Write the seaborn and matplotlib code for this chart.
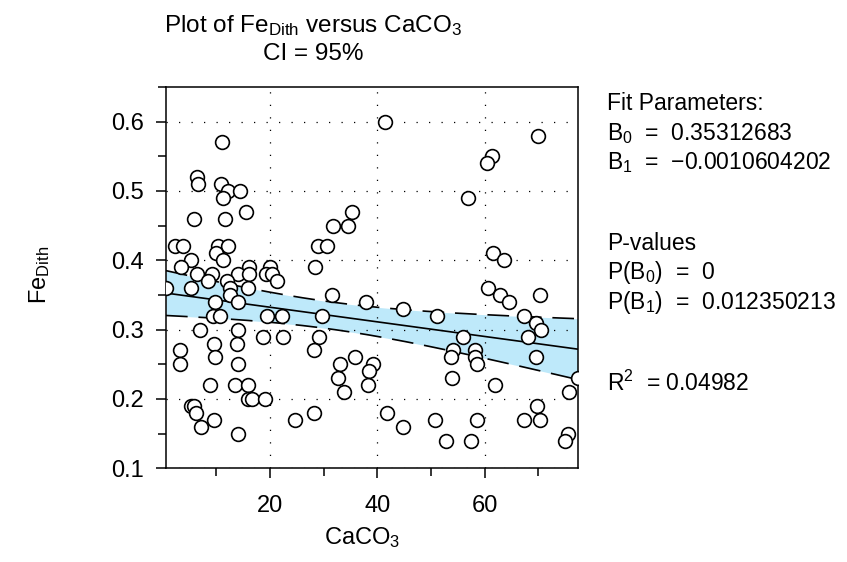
import numpy as np
import matplotlib
matplotlib.use("Agg")
import matplotlib.pyplot as plt
import seaborn as sns

# ---- data ----
caco3 = [11.1, 6.3, 6.6, 10.8, 12.1, 14.3, 11.3, 5.9, 11.6, 15.6,
         2.3, 3.7, 10.2, 12.2, 10.0, 11.3, 5.3, 3.4, 16.0, 19.9,
         6.4, 9.1, 14.1, 16.1, 19.2, 20.3, 8.5, 11.9, 21.2, 0.6,
         5.2, 12.5, 15.9, 12.5, 9.8, 14.1, 9.4, 10.6, 19.4, 22.3,
         7.0, 14.1, 18.7, 22.4, 9.6, 13.8, 3.2, 3.2, 9.7, 14.0,
         8.8, 13.5, 15.9, 15.8, 16.7, 19.1, 5.3, 5.9, 6.1, 9.6,
         7.1, 14.0, 24.7,
         41.4, 35.2, 31.7, 34.6, 29.0, 30.7, 28.4, 31.5, 37.9, 44.8,
         51.2, 29.7, 29.1, 28.1, 35.8, 33.0, 39.2, 38.5, 32.7, 38.3,
         33.8, 28.1, 41.7, 44.8, 50.8, 52.8,
         70.0, 61.3, 60.5, 56.8, 61.5, 63.6, 60.7, 62.8, 64.6, 70.3,
         67.4, 69.6, 70.5, 68.1, 55.9, 54.1, 53.7, 58.2, 58.2, 58.6,
         69.5, 54.0, 61.9, 77.3, 75.8, 69.7, 58.5, 67.4, 70.3, 57.4,
         75.6, 75.0]
fe_dith = [0.57, 0.52, 0.51, 0.51, 0.50, 0.50, 0.49, 0.46, 0.46, 0.47,
           0.42, 0.42, 0.42, 0.42, 0.41, 0.40, 0.40, 0.39, 0.39, 0.39,
           0.38, 0.38, 0.38, 0.38, 0.38, 0.38, 0.37, 0.37, 0.37, 0.36,
           0.36, 0.36, 0.36, 0.35, 0.34, 0.34, 0.32, 0.32, 0.32, 0.32,
           0.30, 0.30, 0.29, 0.29, 0.28, 0.28, 0.27, 0.25, 0.26, 0.25,
           0.22, 0.22, 0.22, 0.20, 0.20, 0.20, 0.19, 0.19, 0.18, 0.17,
           0.16, 0.15, 0.17,
           0.60, 0.47, 0.45, 0.45, 0.42, 0.42, 0.39, 0.35, 0.34, 0.33,
           0.32, 0.32, 0.29, 0.27, 0.26, 0.25, 0.25, 0.24, 0.23, 0.22,
           0.21, 0.18, 0.18, 0.16, 0.17, 0.14,
           0.58, 0.55, 0.54, 0.49, 0.41, 0.40, 0.36, 0.35, 0.34, 0.35,
           0.32, 0.31, 0.30, 0.29, 0.29, 0.27, 0.26, 0.27, 0.26, 0.25,
           0.26, 0.23, 0.22, 0.23, 0.21, 0.19, 0.17, 0.17, 0.17, 0.14,
           0.15, 0.14]

x_major = [20, 40, 60]
x_minor = [10, 30, 50, 70]
y_major = [0.1, 0.2, 0.3, 0.4, 0.5, 0.6]
y_minor = [0.15, 0.25, 0.35, 0.45, 0.55, 0.65]

fit_lines = ["Fit Parameters:",
             "B$_{0}$  =  0.35312683",
             "B$_{1}$  =  \u22120.0010604202",
             "",
             "P-values",
             "P(B$_{0}$)  =  0",
             "P(B$_{1}$)  =  0.012350213",
             "",
             "R$^{2}$  = 0.04982"]

# ---- style ----
sns.set_style("ticks")
plt.rcParams["font.family"] = ["Liberation Sans", "DejaVu Sans"]
plt.rcParams["mathtext.fontset"] = "custom"
plt.rcParams["mathtext.rm"] = "Liberation Sans"
plt.rcParams["mathtext.it"] = "Liberation Sans:italic"
plt.rcParams["mathtext.bf"] = "Liberation Sans:bold"
plt.rcParams["mathtext.default"] = "regular"
plt.rcParams["text.color"] = "black"
plt.rcParams["axes.labelcolor"] = "black"
plt.rcParams["xtick.color"] = "black"
plt.rcParams["ytick.color"] = "black"

W, H = 847, 562
fig = plt.figure(figsize=(W / 100, H / 100), dpi=100)
L, R, T, B = 166, 577.5, 87, 468.3
ax = fig.add_axes([L / W, 1 - B / H, (R - L) / W, (B - T) / H])

x = np.asarray(caco3)
y = np.asarray(fe_dith)

# analytic 95% confidence band of the fitted mean
n = len(x)
b1, b0 = np.polyfit(x, y, 1)
resid = y - (b0 + b1 * x)
s = np.sqrt(np.sum(resid ** 2) / (n - 2))
xg = np.linspace(x.min(), x.max(), 200)
se = s * np.sqrt(1 / n + (xg - x.mean()) ** 2 / np.sum((x - x.mean()) ** 2))
t = 1.98
yfit = b0 + b1 * xg
lo, hi = yfit - t * se, yfit + t * se

ax.fill_between(xg, lo, hi, color="#BEE9FA", lw=0, zorder=1)
ax.plot(xg, lo, color="black", lw=1.2, dashes=(13, 6.5), zorder=2)
ax.plot(xg, hi, color="black", lw=1.2, dashes=(13, 6.5), zorder=2)

sns.regplot(x=x, y=y, scatter=False, ci=None, truncate=True, ax=ax,
            line_kws=dict(color="black", lw=1.2, zorder=3))
sns.scatterplot(x=x, y=y, s=98, color="white", edgecolor="black",
                linewidth=1.2, zorder=5, ax=ax, legend=False)

ax.set_xlim(x.min(), x.max())
ax.set_ylim(0.1, 0.65)
ax.set_xticks(x_major)
ax.set_xticks(x_minor, minor=True)
ax.set_yticks(y_major)
ax.set_yticks(y_minor, minor=True)
ax.set_yticklabels([f"{v:.1f}" for v in y_major])
ax.tick_params(which="major", length=7, width=1.1, labelsize=17, direction="out")
ax.tick_params(axis="y", which="major", pad=9)
ax.tick_params(axis="x", which="major", pad=12)
ax.tick_params(which="minor", length=6, width=1.1, direction="out")
ax.set_axisbelow("line")
ax.grid(which="major", color="black", lw=0.9, linestyle=(0, (1, 9)))
for sp in ax.spines.values():
    sp.set_visible(True)
    sp.set_color("black")
    sp.set_linewidth(1.1)

ax.set_xlabel("CaCO$_{3}$", fontsize=17)
ax.xaxis.set_label_coords((362 - L) / (R - L), (B - 538) / (B - T), transform=ax.transAxes)
ax.xaxis.label.set_va("center")
ax.set_ylabel("Fe$_{\\mathrm{Dith}}$", fontsize=17)
ax.yaxis.set_label_coords((40 - L) / (R - L), (B - 275) / (B - T), transform=ax.transAxes)
ax.yaxis.label.set_va("center")

fig.text(313 / W, 1 - 39 / H,
         "Plot of Fe$_{\\mathrm{Dith}}$ versus CaCO$_{3}$\nCI = 95%",
         fontsize=17.5, ha="center", va="center", linespacing=1.3,
         multialignment="center")

ys = [104, 134, 163, 193, 243, 273, 303, 343, 383]
for txt, yp in zip(fit_lines, ys):
    if txt:
        fig.text(607 / W, 1 - yp / H, txt, fontsize=16.5, ha="left", va="center")

fig.savefig("out.png", dpi=100)
